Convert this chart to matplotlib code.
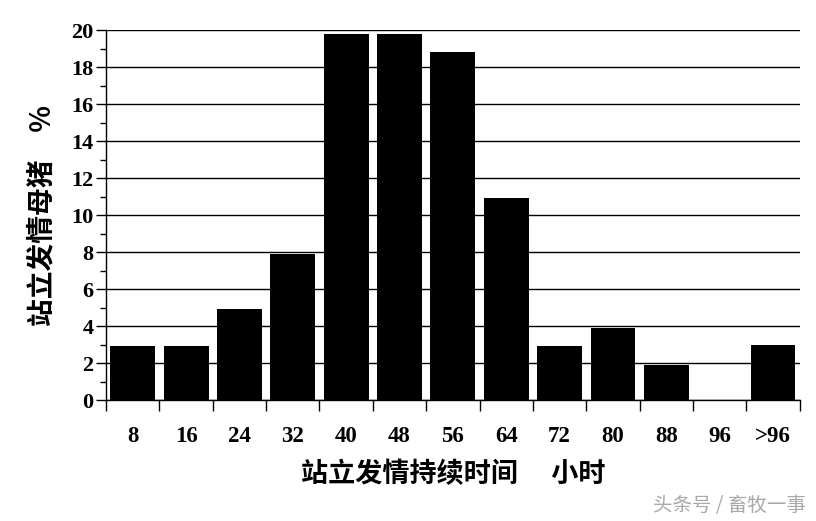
import matplotlib
matplotlib.use("Agg")
import matplotlib.pyplot as plt
from matplotlib.ticker import FixedLocator, NullFormatter, FixedFormatter

categories = ["8", "16", "24", "32", "40", "48", "56", "64", "72", "80", "88", "96", ">96"]
values = [2.9, 2.9, 4.9, 7.9, 19.8, 19.8, 18.8, 10.9, 2.9, 3.9, 1.9, 0.0, 3.0]
yticks = [0, 2, 4, 6, 8, 10, 12, 14, 16, 18, 20]

plt.rcParams['font.family'] = ['Liberation Serif', 'DejaVu Serif']
cjk = ['Noto Sans CJK SC', 'DejaVu Sans']

fig = plt.figure(figsize=(8.16, 5.21), dpi=100)
ax = fig.add_axes([0.130, 0.2322, 0.850, 0.7102])

x = list(range(len(categories)))
ax.bar(x, values, width=0.84, color='black', zorder=3)

ax.set_xlim(-0.5, len(categories) - 0.5)
ax.set_ylim(0, 20)

ax.set_yticks(yticks)
ax.set_yticklabels([str(v) for v in yticks], fontsize=16, fontweight='bold')
ax.yaxis.set_minor_locator(FixedLocator([v + 1 for v in yticks[:-1]]))
ax.tick_params(axis='y', which='major', length=7, width=1, direction='out', pad=2)
ax.tick_params(axis='y', which='minor', length=4, width=1, direction='out')
ax.grid(axis='y', which='major', color='black', linewidth=1, zorder=1)

bounds = [i - 0.5 for i in range(len(categories) + 1)]
ax.xaxis.set_major_locator(FixedLocator(bounds))
ax.xaxis.set_major_formatter(NullFormatter())
ax.xaxis.set_minor_locator(FixedLocator(x))
ax.xaxis.set_minor_formatter(FixedFormatter(categories))
ax.tick_params(axis='x', which='major', length=8, width=1, direction='out')
ax.tick_params(axis='x', which='minor', length=0, pad=19, labelsize=16.5)
for lab in ax.get_xticklabels(minor=True):
    lab.set_fontweight('bold')

for s in ['top', 'right']:
    ax.spines[s].set_visible(False)
ax.spines['left'].set_linewidth(1)
ax.spines['bottom'].set_linewidth(1)

ax.set_xlabel("站立发情持续时间\u3000 小时", family=cjk, fontsize=19.5, fontweight='bold', labelpad=9)
ax.set_ylabel("站立发情母猪\u3000%", family=cjk, fontsize=20, fontweight='bold', labelpad=11)

fig.text(0.987, 0.03, "头条号 / 畜牧一事", family=cjk, fontsize=14, color='#a8a8a8', ha='right', va='center')

fig.savefig("out.png", dpi=100)
